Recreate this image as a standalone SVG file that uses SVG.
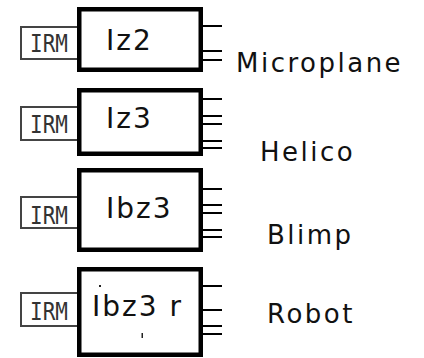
<svg xmlns="http://www.w3.org/2000/svg" width="424" height="358" viewBox="0 0 424 358">
<style>
.box{fill:#fff;stroke:#000;stroke-width:4.5}
.irm{fill:#fff;stroke:#444;stroke-width:2}
.irmt{font-family:"DejaVu Sans Mono","Liberation Mono",monospace;font-size:21px;fill:#333;text-anchor:middle}
.lbl{font-family:"DejaVu Sans","Liberation Sans",sans-serif;font-size:28px;fill:#111;letter-spacing:2px}
.name{font-family:"DejaVu Sans","Liberation Sans",sans-serif;font-size:26px;fill:#111;letter-spacing:2.5px}
.pin{stroke:#000;stroke-width:2}
</style>
<rect width="424" height="358" fill="#fff"/>
<g id="connectors">
<path class="pin" d="M203 26H222M203 51H222M203 60H222"/>
<path class="pin" d="M203 99H222M203 116H222M203 124H222M203 141H222M203 148H222"/>
<path class="pin" d="M203 189H222M203 205H222M203 213H222M203 230H222M203 237H222"/>
<path class="pin" d="M203 286H222M203 310H222M203 326H222M203 334H222"/>
</g>
<g id="node-iz2">
<rect class="irm" x="21" y="27" width="57" height="32"/>
<text class="irmt" transform="translate(49,52) scale(1,1.15)">IRM</text>
<rect class="box" x="79.25" y="9.25" width="121.5" height="60.5"/>
<text class="lbl" x="106" y="50">Iz2</text>
</g>
<g id="node-iz3">
<rect class="irm" x="21" y="107" width="57" height="33"/>
<text class="irmt" transform="translate(49,133) scale(1,1.15)">IRM</text>
<rect class="box" x="79.25" y="90.25" width="121.5" height="63.5"/>
<text class="lbl" x="106" y="128">Iz3</text>
</g>
<g id="node-ibz3">
<rect class="irm" x="21" y="197" width="57" height="31"/>
<text class="irmt" transform="translate(49,224) scale(1,1.15)">IRM</text>
<rect class="box" x="79.25" y="170.25" width="121.5" height="79.5"/>
<text class="lbl" x="106" y="218">Ibz3</text>
</g>
<g id="node-ibz3r">
<rect class="irm" x="21" y="293" width="57" height="33"/>
<text class="irmt" transform="translate(49,320) scale(1,1.15)">IRM</text>
<rect class="box" x="79.25" y="269.25" width="121.5" height="85.5"/>
<text class="lbl" x="92" y="316">Ibz3 r</text>
<rect x="99" y="285" width="2" height="2" fill="#222"/>
<rect x="141.5" y="333" width="1.5" height="5" fill="#222"/>
</g>
<g id="labels">
<text class="name" x="236" y="72">Microplane</text>
<text class="name" x="260" y="161">Helico</text>
<text class="name" x="267" y="244">Blimp</text>
<text class="name" x="267" y="323">Robot</text>
</g>
</svg>
